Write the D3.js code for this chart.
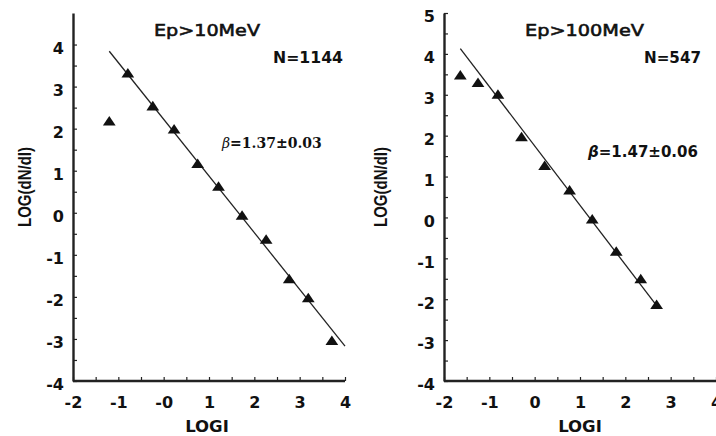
<!DOCTYPE html>
<html lang="en">
<head>
    <meta charset="UTF-8">
    <title>LOG(dN/dI) vs LOGI</title>
    <style>
        body {
            margin: 0;
            background-color: #ffffff;
        }
        svg {
            display: block;
        }
        .tick text {
            font-family: "DejaVu Sans", sans-serif;
            font-weight: bold;
            font-size: 16px;
            fill: #111;
        }
        .axis path.domain {
            stroke: #222;
            stroke-width: 2.4px;
        }
        .axis line {
            stroke: #222;
            stroke-width: 1.2px;
        }
    </style>
</head>
<body>
<script src="https://d3js.org/d3.v7.min.js"></script>
<script>
    // ---- data ----
    var logI_10 = [-1.2, -0.79, -0.24, 0.23, 0.75, 1.21, 1.73, 2.26, 2.77, 3.19, 3.71];
    var logN_10 = [2.15, 3.29, 2.51, 1.96, 1.14, 0.60, -0.09, -0.66, -1.60, -2.05, -3.07];
    var fit_10 = [[-1.2, 3.84], [4.0, -3.17]];

    var logI_100 = [-1.64, -1.25, -0.81, -0.29, 0.22, 0.77, 1.27, 1.80, 2.34, 2.69];
    var logN_100 = [3.45, 3.27, 2.98, 1.94, 1.24, 0.64, -0.07, -0.86, -1.53, -2.16];
    var fit_100 = [[-1.64, 4.13], [2.72, -2.2]];

    var xTicks = [-2, -1, 0, 1, 2, 3, 4];
    var xTickLabels_10 = ["-2", "-1", "-0", "1", "2", "3", "4"];
    var xTickLabels_100 = ["-2", "-1", "0", "1", "2", "3", "4"];
    var yTicks_10 = [-4, -3, -2, -1, 0, 1, 2, 3, 4];
    var yTicks_100 = [-4, -3, -2, -1, 0, 1, 2, 3, 4, 5];

    var width = 716, height = 436;

    var svg = d3.select("body").append("svg")
        .attr("width", width)
        .attr("height", height);

    var panels = [
        {
            xs: logI_10, ys: logN_10, fit: fit_10,
            xRange: [73, 345], yDomain: [-4, 4.75],
            xLabels: xTickLabels_10, yTicks: yTicks_10, xMax: 4,
            title: "Ep>10MeV", titleX: 154, titleLen: 106,
            nText: "N=1144", nX: 273, nLen: 70,
            beta: "1.37\u00b10.03", betaX: 222, betaY: 148, betaSerif: true,
            yLabelX: 31, xLabelX: 207
        },
        {
            xs: logI_100, ys: logN_100, fit: fit_100,
            xRange: [444, 716], yDomain: [-4, 5],
            xLabels: xTickLabels_100, yTicks: yTicks_100, xMax: 4.05,
            title: "Ep>100MeV", titleX: 525, titleLen: 119,
            nText: "N=547", nX: 644, nLen: 57,
            beta: "1.47\u00b10.06", betaX: 588, betaY: 157, betaSerif: false,
            yLabelX: 387, xLabelX: 580
        }
    ];

    panels.forEach(function(p) {
        drawPanel(p);
    });

    function halfSteps(lo, hi) {
        var out = [];
        for (var v = lo; v <= hi + 1e-9; v += 0.5) out.push(v);
        return out;
    }

    function drawPanel(p) {
        var x = d3.scaleLinear().domain([-2, 4]).range(p.xRange);
        var y = d3.scaleLinear().domain(p.yDomain).range([381, 13]);

        var g = svg.append("g");

        // x axis, ticks point inward, minor ticks every 0.5
        var xAxis = d3.axisBottom(x)
            .tickValues(halfSteps(-2, 4))
            .tickSizeInner(-4)
            .tickSizeOuter(0)
            .tickPadding(16)
            .tickFormat(function(d) {
                var i = xTicks.indexOf(d);
                return i >= 0 ? p.xLabels[i] : "";
            });

        var gx = g.append("g")
            .attr("class", "axis")
            .attr("transform", "translate(0,381)")
            .call(xAxis);
        gx.select(".domain").attr("d", "M" + x(-2) + ",0H" + x(p.xMax));
        gx.selectAll(".tick text").attr("y", 26.5).attr("dy", 0);

        var yAxis = d3.axisLeft(y)
            .tickValues(halfSteps(-4, p.yTicks[p.yTicks.length - 1]))
            .tickSizeInner(-4)
            .tickSizeOuter(0)
            .tickPadding(9)
            .tickFormat(function(d) {
                return p.yTicks.indexOf(d) >= 0 ? String(d) : "";
            });

        var gy = g.append("g")
            .attr("class", "axis")
            .attr("transform", "translate(" + p.xRange[0] + ",0)")
            .call(yAxis);
        gy.selectAll(".tick text").attr("dy", "0.55em");

        // fitted power law line
        var line = d3.line()
            .x(function(d) { return x(d[0]); })
            .y(function(d) { return y(d[1]); });

        g.append("path")
            .datum(p.fit)
            .attr("fill", "none")
            .attr("stroke", "#222")
            .attr("stroke-width", 1.3)
            .attr("d", line);

        // triangles
        var pts = p.xs.map(function(v, i) { return [v, p.ys[i]]; });
        var tri = d3.symbol().type(d3.symbolTriangle).size(58);

        g.selectAll(".pt")
            .data(pts)
            .enter().append("path")
            .attr("class", "pt")
            .attr("fill", "#111")
            .attr("transform", function(d) {
                return "translate(" + x(d[0]) + "," + y(d[1]) + ") scale(1.1,0.95)";
            })
            .attr("d", tri);

        // texts
        g.append("text")
            .attr("x", p.titleX)
            .attr("y", 36)
            .attr("font-family", "DejaVu Sans, sans-serif")
            .attr("font-size", 16.5)
            .attr("textLength", p.titleLen)
            .attr("lengthAdjust", "spacingAndGlyphs")
            .attr("fill", "#111")
            .attr("stroke", "#111")
            .attr("stroke-width", 0.6)
            .text(p.title);

        g.append("text")
            .attr("x", p.nX)
            .attr("y", 63)
            .attr("font-family", "DejaVu Sans, sans-serif")
            .attr("font-weight", "bold")
            .attr("font-size", 15.5)
            .attr("textLength", p.nLen)
            .attr("lengthAdjust", "spacingAndGlyphs")
            .attr("fill", "#111")
            .text(p.nText);

        var bt = g.append("text")
            .attr("x", p.betaX)
            .attr("y", p.betaY)
            .attr("font-family", p.betaSerif ? "DejaVu Serif, serif" : "DejaVu Sans, sans-serif")
            .attr("font-weight", "bold")
            .attr("font-size", p.betaSerif ? 14 : 15)
            .attr("fill", "#111");
        bt.append("tspan")
            .attr("font-style", "italic")
            .attr("font-weight", p.betaSerif ? "normal" : "bold")
            .text("\u03b2");
        bt.append("tspan").text("=" + p.beta);

        // axis titles
        g.append("text")
            .attr("transform", "translate(" + p.yLabelX + ",187) rotate(-90) scale(1,1.25)")
            .attr("text-anchor", "middle")
            .attr("font-family", "Liberation Sans, Arial, sans-serif")
            .attr("font-weight", "bold")
            .attr("font-size", 15)
            .attr("fill", "#111")
            .text("LOG(dN/dI)");

        g.append("text")
            .attr("x", p.xLabelX)
            .attr("y", 432)
            .attr("text-anchor", "middle")
            .attr("font-family", "DejaVu Sans, sans-serif")
            .attr("font-weight", "bold")
            .attr("font-size", 16.5)
            .attr("fill", "#111")
            .text("LOGI");
    }
</script>
</body>
</html>
